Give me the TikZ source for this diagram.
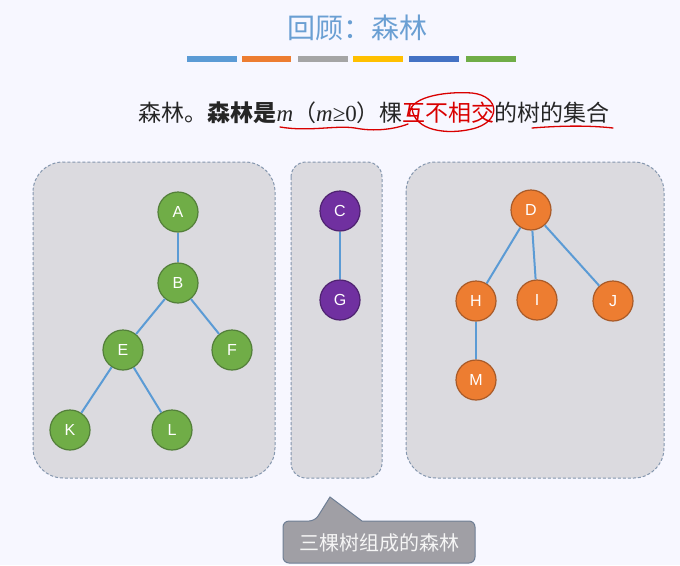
\documentclass[tikz,border=0pt]{standalone}
\usepackage{fontspec}
\setmainfont{Liberation Serif}
\setsansfont{Liberation Sans}
\newfontfamily\cjk{Noto Sans CJK SC}
\usetikzlibrary{shapes.geometric}
\definecolor{ttlblue}{HTML}{6A9FD3}
\definecolor{cA}{HTML}{5B9BD5}
\definecolor{cB}{HTML}{ED7D31}
\definecolor{cC}{HTML}{A5A5A5}
\definecolor{cD}{HTML}{FFC000}
\definecolor{cE}{HTML}{4472C4}
\definecolor{cF}{HTML}{70AD47}
\definecolor{boxfill}{HTML}{DBDADF}
\definecolor{boxline}{HTML}{8496AE}
\definecolor{gfill}{HTML}{70AD47}
\definecolor{gline}{HTML}{537F3A}
\definecolor{pfill}{HTML}{7030A0}
\definecolor{pline}{HTML}{4E2270}
\definecolor{ofill}{HTML}{ED7D31}
\definecolor{oline}{HTML}{A85A28}
\definecolor{edgec}{HTML}{5B9BD5}
\definecolor{callfill}{HTML}{A09FA5}
\definecolor{callline}{HTML}{6F7F95}
\definecolor{txt}{HTML}{262626}
\begin{document}
\begin{tikzpicture}[x=1pt,y=-1pt,
  tnode/.style={circle,minimum size=40pt,inner sep=0pt,line width=1.2pt,text=white,font=\sffamily\fontsize{16}{16}\selectfont},
  gnode/.style={tnode,fill=gfill,draw=gline},
  pnode/.style={tnode,fill=pfill,draw=pline},
  onode/.style={tnode,fill=ofill,draw=oline},
  forestbox/.style={fill=boxfill,draw=boxline,dash pattern=on 3pt off 2pt,line width=1pt},
  edge/.style={draw=edgec,line width=2pt},
  bar/.style={line width=5.5pt},
  redmark/.style={draw=red!85!black,line width=1.3pt,line cap=round}]
\useasboundingbox (0,0) rectangle (680,565);
\fill[white!97!blue] (0,0) rectangle (680,565);
% title
\node (title) at (357,28) {\cjk\fontsize{28}{28}\selectfont\color{ttlblue}回顾：森林};
\foreach \a/\b/\c in {187/237/cA,242/291/cB,298/348/cC,353/403/cD,409/459/cE,466/516/cF}
  \draw[bar,\c] (\a,59) -- (\b,59);
% definition line
\node[anchor=west,text=txt] (defn) at (135,113) {\fontsize{23}{23}\selectfont\cjk 森林。\textbf{森林是}\rmfamily\itshape m\cjk\upshape （\rmfamily\itshape m\upshape ≥0\cjk）棵\textcolor{red!85!black}{互不相交}的树的集合};
% red annotations
\draw[redmark] (280,127) .. controls (310,132) and (335,125) .. (355,128) .. controls (375,132) and (395,129) .. (408,124);
\draw[redmark] (410,116) .. controls (406,98) and (442,91) .. (472,93) .. controls (500,96) and (502,122) .. (472,129) .. controls (447,135) and (414,131) .. (412,108);
\draw[redmark] (532,128) .. controls (557,126) and (586,125) .. (613,128);
% boxes
\draw[forestbox,rounded corners=30pt] (33,162) rectangle (275,478);
\draw[forestbox,rounded corners=15pt] (291,162) rectangle (382,478);
\draw[forestbox,rounded corners=30pt] (406,162) rectangle (664,478);
% tree 1
\node[gnode] (A) at (178,212) {A};
\node[gnode] (B) at (178,283) {B};
\node[gnode] (E) at (123,350) {E};
\node[gnode] (F) at (232,350) {F};
\node[gnode] (K) at (70,430) {K};
\node[gnode] (L) at (172,430) {L};
\draw[edge] (A) -- (B);
\draw[edge] (B) -- (E);
\draw[edge] (B) -- (F);
\draw[edge] (E) -- (K);
\draw[edge] (E) -- (L);
% tree 2
\node[pnode] (C) at (340,211) {C};
\node[pnode] (G) at (340,300) {G};
\draw[edge] (C) -- (G);
% tree 3
\node[onode] (D) at (531,210) {D};
\node[onode] (H) at (476,301) {H};
\node[onode] (I) at (537,300) {I};
\node[onode] (J) at (613,301) {J};
\node[onode] (M) at (476,380) {M};
\draw[edge] (D) -- (H);
\draw[edge] (D) -- (I);
\draw[edge] (D) -- (J);
\draw[edge] (H) -- (M);
% callout
\coordinate (tipL) at (315,521);
\coordinate (tip) at (330,497);
\coordinate (tipR) at (362,521);
\draw[fill=callfill,draw=callline,line width=1pt,rounded corners=6pt]
  (283,521) -- (tipL) [sharp corners] -- (tip) -- (tipR) [rounded corners=6pt] -- (475,521) -- (475,563) -- (283,563) -- cycle;
\node (callout) at (379,543) {\cjk\fontsize{20}{20}\selectfont\color{white!92!gray}三棵树组成的森林};
\end{tikzpicture}
\end{document}
